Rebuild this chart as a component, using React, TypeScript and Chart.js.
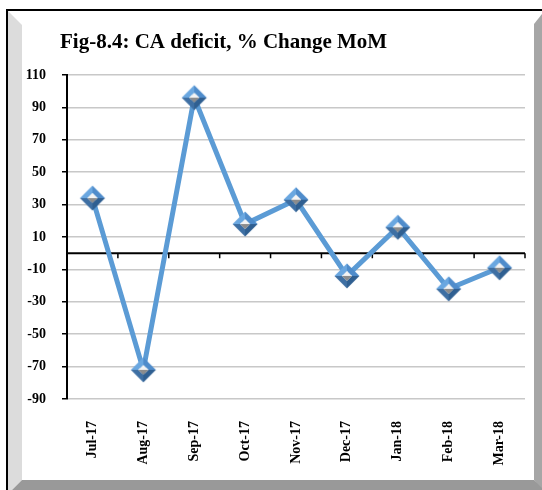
import React, { useEffect, useRef } from "react";
import { Chart, registerables } from "chart.js";

Chart.register(...registerables);

const categories = ["Jul-17", "Aug-17", "Sep-17", "Oct-17", "Nov-17", "Dec-17", "Jan-18", "Feb-18", "Mar-18"];
const changeMoM = [34, -72, 96, 18, 33, -14, 16, -22, -9];
const yMin = -90;
const yMax = 110;
const yStep = 20;
const titleText = "Fig-8.4: CA deficit, % Change MoM";

const SERIF = "'Liberation Serif', 'Times New Roman', serif";

function makeMarker(): HTMLCanvasElement {
  const c = document.createElement("canvas");
  const s = 28;
  c.width = s;
  c.height = s;
  const g = c.getContext("2d")!;
  const m = s / 2;
  const R = 12.5;
  const r = 5;
  const facet = (pts: number[][], color: string) => {
    g.beginPath();
    g.moveTo(pts[0][0], pts[0][1]);
    for (let i = 1; i < pts.length; i++) g.lineTo(pts[i][0], pts[i][1]);
    g.closePath();
    g.fillStyle = color;
    g.fill();
  };
  facet([[m - R, m], [m, m - R], [m, m - r], [m - r, m]], "#6aa7e0");
  facet([[m, m - R], [m + R, m], [m + r, m], [m, m - r]], "#4f8ccb");
  facet([[m + R, m], [m, m + R], [m, m + r], [m + r, m]], "#2f5f91");
  facet([[m, m + R], [m - R, m], [m - r, m], [m, m + r]], "#3e6fa3");
  facet([[m - r, m], [m, m - r], [m + r, m]], "#f4f4f4");
  facet([[m - r, m], [m + r, m], [m, m + r]], "#8c8c8c");
  return c;
}

const framePlugin = {
  id: "frame",
  beforeDraw(chart: any) {
    const ctx = chart.ctx;
    const W = chart.width;
    const H = chart.height;
    ctx.save();
    ctx.fillStyle = "#ffffff";
    ctx.fillRect(0, 0, W, H);
    const poly = (pts: number[][], color: string) => {
      ctx.beginPath();
      ctx.moveTo(pts[0][0], pts[0][1]);
      for (let i = 1; i < pts.length; i++) ctx.lineTo(pts[i][0], pts[i][1]);
      ctx.closePath();
      ctx.fillStyle = color;
      ctx.fill();
    };
    poly([[8, 11], [22, 25], [22, 480], [8, 494]], "#dcdcdc");
    poly([[534, 24], [W, 14], [W, H], [534, 480]], "#a6a6a6");
    poly([[22, 480], [534, 480], [544, H], [12, H]], "#999999");
    ctx.fillStyle = "#000000";
    ctx.fillRect(6, 9, W - 6, 2);
    ctx.fillRect(6, 9, 2, H - 9);
    ctx.fillStyle = "#000000";
    ctx.font = "bold 21px " + SERIF;
    ctx.textAlign = "left";
    ctx.textBaseline = "alphabetic";
    ctx.fillText(titleText, 60, 48);
    ctx.restore();
  },
};

const zeroAxisPlugin = {
  id: "zeroAxis",
  beforeDatasetsDraw(chart: any) {
    const xs = chart.scales.x;
    const ys = chart.scales.y;
    const y0 = ys.getPixelForValue(0);
    const ctx = chart.ctx;
    ctx.save();
    ctx.strokeStyle = "#000000";
    ctx.lineWidth = 2;
    ctx.beginPath();
    ctx.moveTo(xs.left, y0);
    ctx.lineTo(xs.right, y0);
    ctx.stroke();
    ctx.lineWidth = 1.5;
    const n = categories.length;
    const xsPos: number[] = [];
    for (let i = 1; i < n; i++) {
      xsPos.push((xs.getPixelForValue(i - 1) + xs.getPixelForValue(i)) / 2);
    }
    xsPos.push(xs.right);
    ctx.beginPath();
    for (const x of xsPos) {
      ctx.moveTo(x, y0);
      ctx.lineTo(x, y0 + 5);
    }
    ctx.stroke();
    ctx.restore();
  },
};

export default function App() {
  const ref = useRef<HTMLCanvasElement | null>(null);
  useEffect(() => {
    if (!ref.current) return;
    const marker = makeMarker();
    const chart = new Chart(ref.current, {
      type: "line",
      data: {
        labels: categories,
        datasets: [
          {
            data: changeMoM,
            borderColor: "#5b9bd5",
            backgroundColor: "#5b9bd5",
            borderWidth: 5,
            tension: 0,
            pointStyle: marker as any,
            pointRadius: 12,
            pointHoverRadius: 12,
          },
        ],
      },
      options: {
        responsive: false,
        animation: false,
        devicePixelRatio: 1,
        layout: { padding: { left: 0, right: 10, top: 75, bottom: 0 } },
        plugins: {
          legend: { display: false },
          tooltip: { enabled: false },
          title: { display: false },
        },
        scales: {
          x: {
            offset: true,
            grid: { display: false, drawTicks: false },
            border: { display: false },
            ticks: {
              autoSkip: false,
              minRotation: 90,
              maxRotation: 90,
              padding: 22,
              color: "#000000",
              font: { family: SERIF, size: 14, weight: "bold" },
            },
            afterFit(scale: any) {
              scale.height = 91;
              scale.paddingLeft = 0;
              scale.paddingRight = 0;
            },
          },
          y: {
            min: yMin,
            max: yMax,
            grid: {
              color: "#c8c8c8",
              lineWidth: 1.5,
              tickColor: "#000000",
              tickLength: 5,
              tickWidth: 1.5,
            },
            border: { display: true, color: "#000000", width: 2 },
            ticks: {
              stepSize: yStep,
              padding: 16,
              color: "#000000",
              font: { family: SERIF, size: 14, weight: "bold" },
            },
            afterFit(scale: any) {
              scale.width = 67;
            },
          },
        },
      },
      plugins: [framePlugin, zeroAxisPlugin],
    });
    return () => chart.destroy();
  }, []);
  return (
    <div style={{ position: "fixed", left: 0, top: 0, width: 542, height: 490 }}>
      <canvas ref={ref} width={542} height={490} />
    </div>
  );
}
